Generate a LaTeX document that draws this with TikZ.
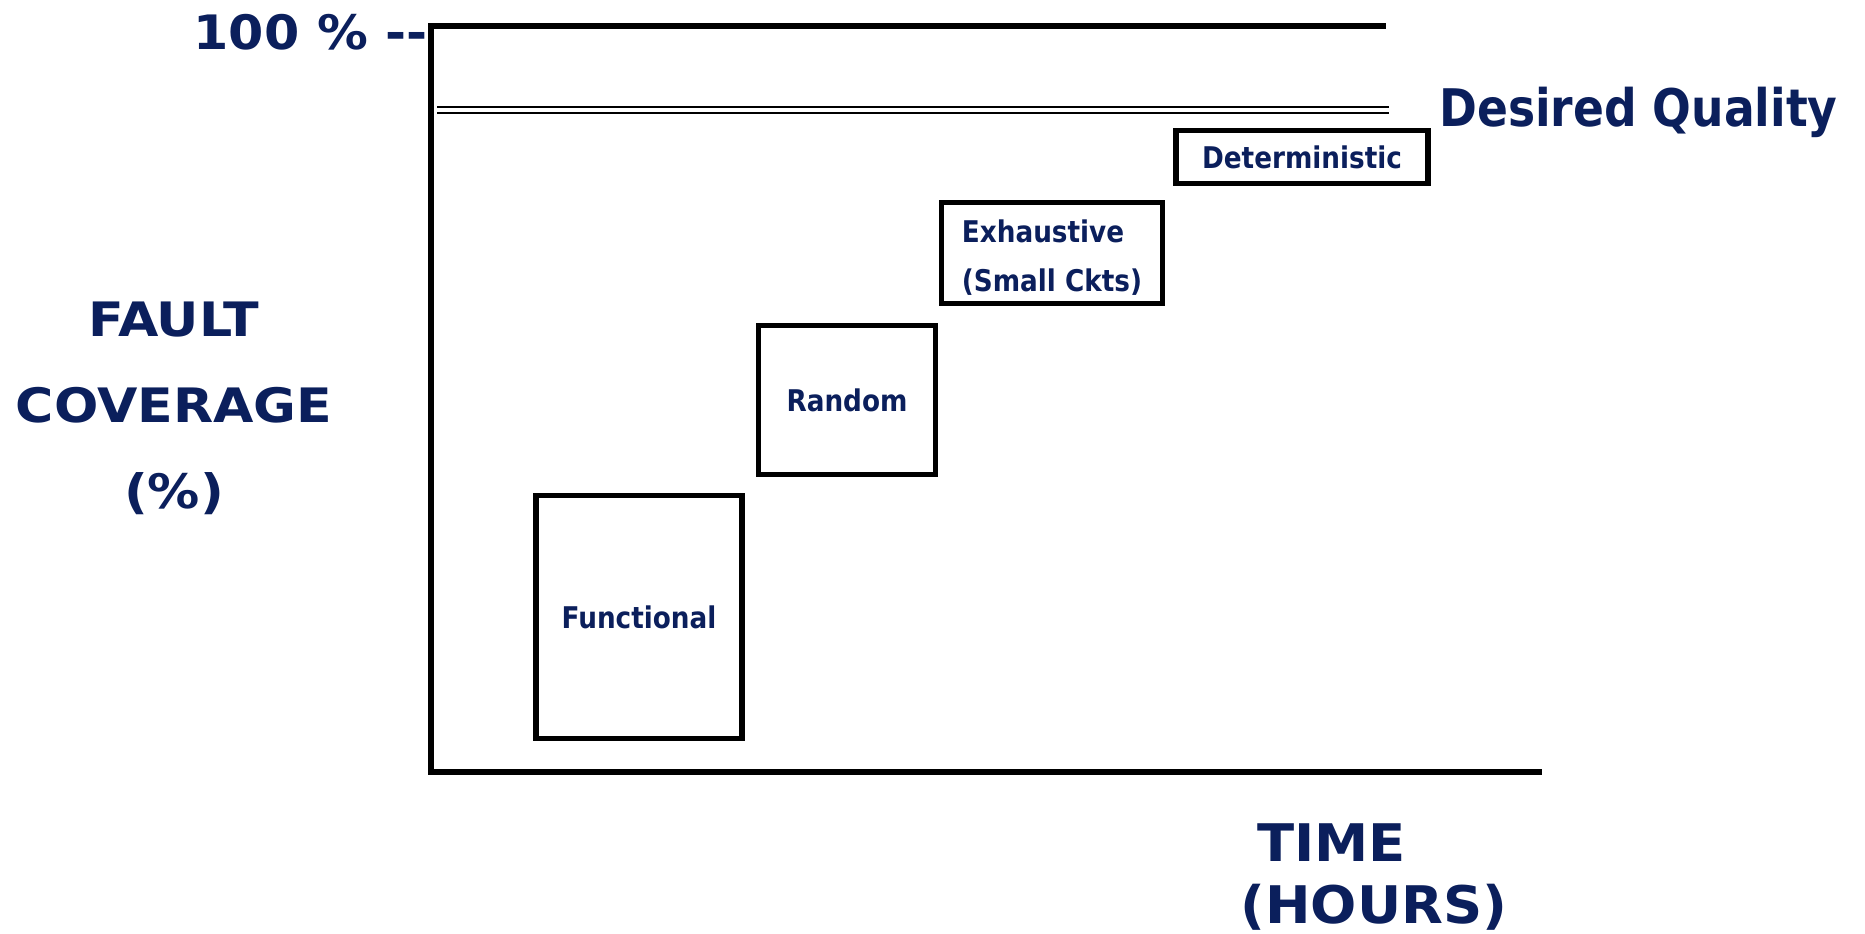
\documentclass[tikz,border=0pt]{standalone}
\usepackage{fontspec}
\setmainfont{DejaVu Sans}
\newfontfamily\widefont[FakeStretch=1.1]{DejaVu Sans}
\newfontfamily\narrowfont[FakeStretch=0.88]{DejaVu Sans}
\usepackage{tikz}
\usetikzlibrary{positioning}
\definecolor{navy}{HTML}{0B1F5C}

\begin{document}
\begin{tikzpicture}[
    x=0.02cm, y=-0.02cm,
    axis/.style={line width=3pt, line cap=rect},
    method/.style={draw, line width=3pt, inner sep=0pt, align=left, text=navy, font=\narrowfont\fontsize{17}{28}\selectfont\bfseries},
    caption/.style={text=navy, font=\widefont\fontsize{27}{49}\selectfont\bfseries, inner sep=0pt}
]
\useasboundingbox (0,0) rectangle (1865,933);

% axes
\coordinate (origin) at (431,772);
\coordinate (ytop) at (431,26);
\coordinate (xend) at (1539,772);
\coordinate (topend) at (1383,26);
\draw[axis] (ytop) -- (origin) -- (xend);
\draw[axis] (ytop) -- (topend);

% desired quality level
\coordinate (qleft) at (437,110);
\coordinate (qright) at (1389,110);
\draw[line width=1.4pt, double, double distance=1.8pt] (qleft) -- (qright);
\node[caption, anchor=west, font=\narrowfont\fontsize{29.5}{36}\selectfont\bfseries] (quality) at (1439,112) {Desired Quality};

% axis labels
\node[caption, anchor=east, font=\fontsize{27}{36}\selectfont\bfseries\addfontfeature{FakeStretch=1.07}] (full) at (428,32) {100 \% -{}-};
\node[caption, align=center] (ylabel) at (174,408) {FAULT\\COVERAGE\\(\%)};
\node[caption, anchor=west, font=\fontsize{29.5}{36}\selectfont\bfseries\addfontfeature{FakeStretch=1.05}] (time) at (1257,843) {TIME};
\node[caption, anchor=west, font=\fontsize{29.5}{36}\selectfont\bfseries\addfontfeature{FakeStretch=1.05}] (hours) at (1240,907) {(HOURS)};

% test methods
\node[method, minimum width=4.12cm, minimum height=4.86cm] (functional) at (639,617) {Functional};
\node[method, minimum width=3.54cm, minimum height=2.98cm] (random) at (847,400) {Random};
\node[method, minimum width=4.42cm, minimum height=2.02cm] (exhaustive) at (1052,253) {};
\node[text=navy, font=\narrowfont\fontsize{17}{28}\selectfont\bfseries, align=left, inner sep=0pt] (exhlabel) at (1052,258) {Exhaustive\\(Small Ckts)};
\node[method, minimum width=5.04cm, minimum height=1.06cm] (determ) at (1302,157) {Deterministic};
\end{tikzpicture}
\end{document}
